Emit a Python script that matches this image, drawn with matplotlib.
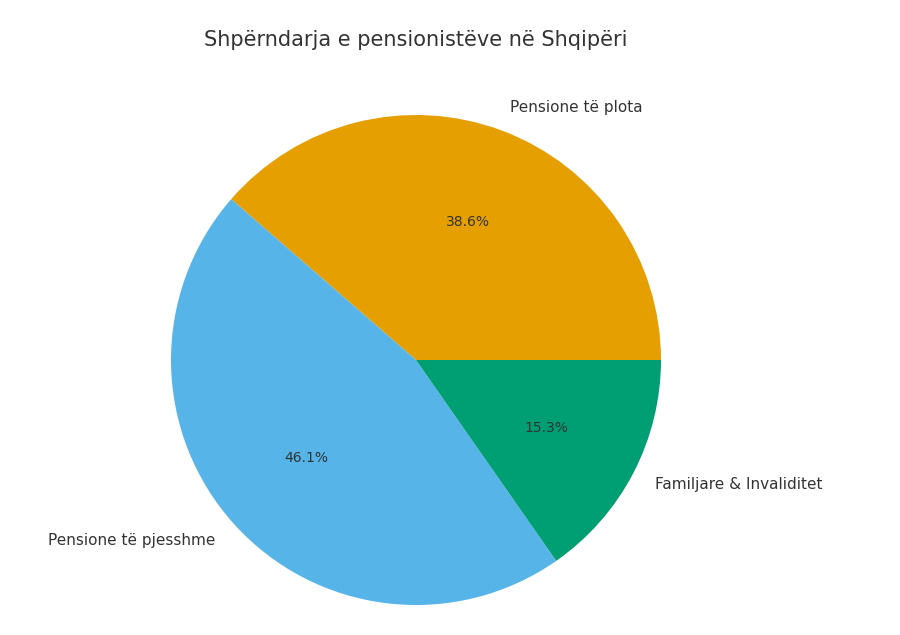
import matplotlib
matplotlib.use("Agg")
import matplotlib.pyplot as plt

labels = ["Pensione të plota", "Pensione të pjesshme", "Familjare & Invaliditet"]
values = [38.6, 46.1, 15.3]
colors = ["#E69F00", "#56B4E9", "#009E73"]

fig = plt.figure(figsize=(9, 6.35), dpi=100)
fig.patch.set_facecolor("white")
ax = fig.add_axes([(416 - 245) / 900, (635 - 360 - 245) / 635, 490 / 900, 490 / 635])

wedges, texts, autotexts = ax.pie(
    values,
    labels=labels,
    colors=colors,
    autopct="%1.1f%%",
    startangle=0,
    labeldistance=1.1,
    textprops={"fontsize": 11, "color": "#333333"},
)
for t in autotexts:
    t.set_fontsize(10)
ax.set_aspect("equal")
ax.set_xlim(-1, 1)
ax.set_ylim(-1, 1)
ax.set_autoscale_on(False)

fig.text(416 / 900, 1 - 40 / 635, "Shpërndarja e pensionistëve në Shqipëri",
         ha="center", va="center", fontsize=15, color="#333333")

fig.savefig("out.png", dpi=100)
